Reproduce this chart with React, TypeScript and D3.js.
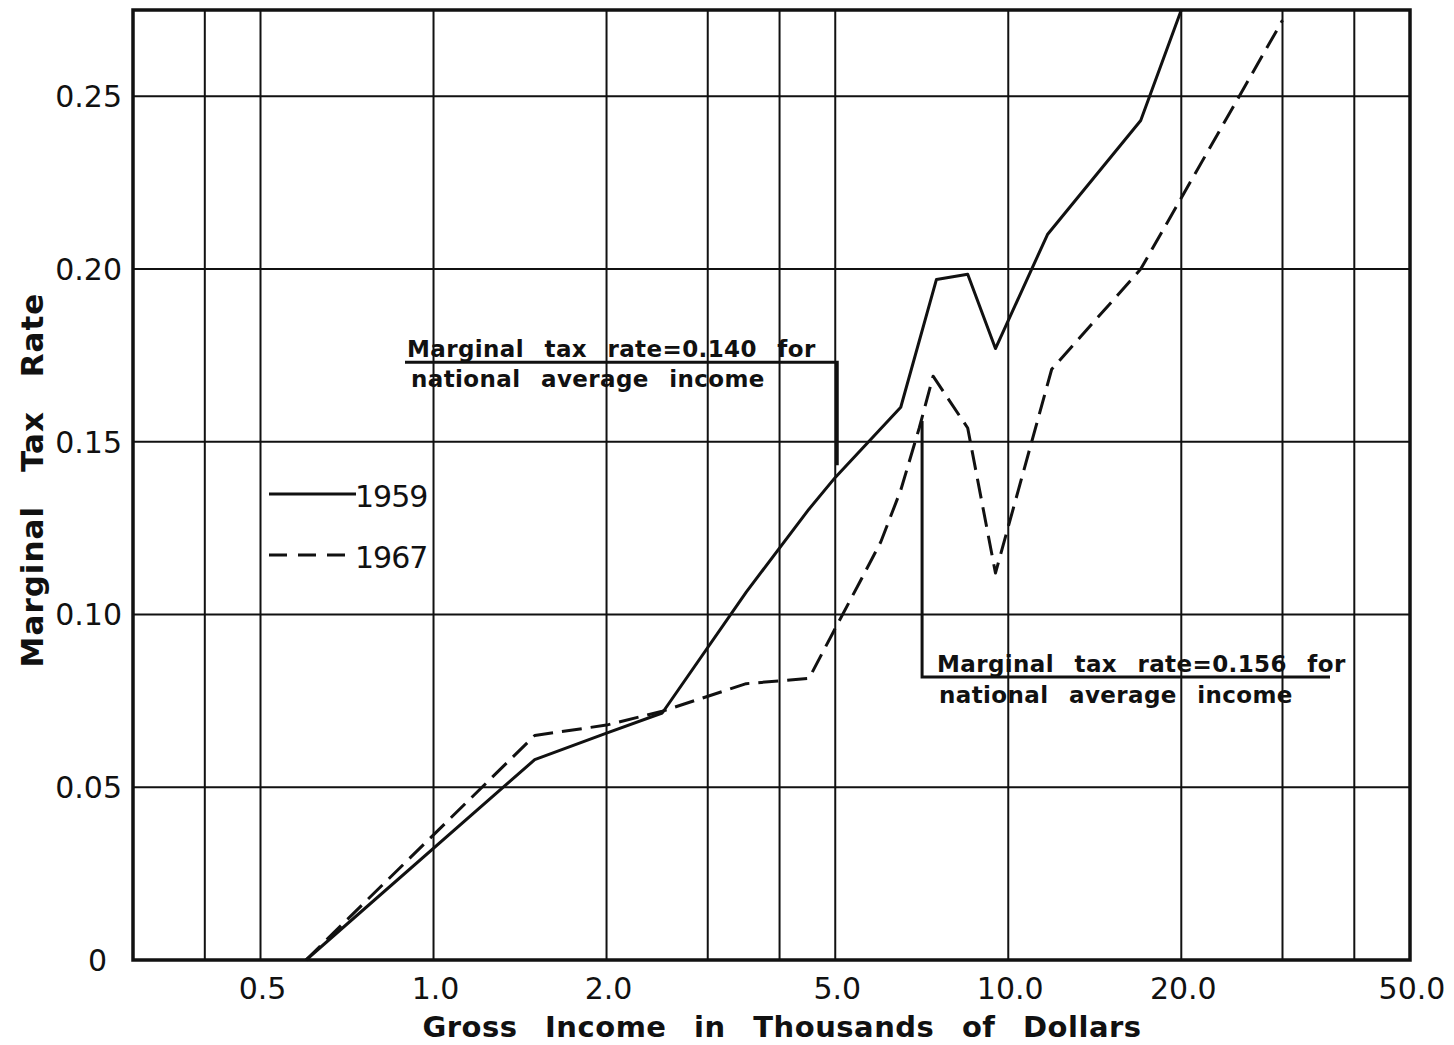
import * as d3 from 'd3';
import { useEffect, useRef } from 'react';

// 1959 marginal rates (solid)
const incomes1959 = [0.6, 1.5, 2.0, 2.5, 3.5, 4.5, 5.0, 6.5, 7.5, 8.5, 9.5, 11.7, 17, 20];
const rates1959 = [0, 0.058, 0.0657, 0.0715, 0.1065, 0.1305, 0.1397, 0.16, 0.197, 0.1985, 0.177, 0.21, 0.243, 0.275];

// 1967 marginal rates (dashed)
const incomes1967 = [0.6, 1.5, 2.0, 2.5, 3.5, 4.5, 5.0, 5.5, 6.0, 6.5, 7.0, 7.4, 8.5, 9.5, 11.9, 17, 30];
const rates1967 = [0, 0.065, 0.068, 0.072, 0.08, 0.0815, 0.096, 0.109, 0.121, 0.136, 0.154, 0.169, 0.154, 0.112, 0.171, 0.2, 0.272];

const incomeTicks = [0.5, 1, 2, 5, 10, 20, 50];
const incomeTickLabels = ['0.5', '1.0', '2.0', '5.0', '10.0', '20.0', '50.0'];
const incomeGrid = [0.4, 0.5, 1, 2, 3, 4, 5, 10, 20, 30, 40];

const rateTicks = [0, 0.05, 0.1, 0.15, 0.2, 0.25];
const rateTickLabels = ['0', '0.05', '0.10', '0.15', '0.20', '0.25'];

const seriesNames = ['1959', '1967'];

// national average income notes: [income, rate]
const note1959 = [5.0, 0.14];
const note1967 = [7.08, 0.156];

const FONT = '"DejaVu Sans", sans-serif';

const App = () => {
  const svgRef = useRef<SVGSVGElement>(null);

  useEffect(() => {
    const width = 1454;
    const height = 1045;
    const svg = d3.select(svgRef.current).attr('width', width).attr('height', height);
    svg.selectAll('*').remove();

    const x = d3.scaleLog().domain([0.3, 50]).range([133, 1410]);
    const y = d3.scaleLinear().domain([0, 0.275]).range([960, 10]);

    svg.append('rect').attr('width', width).attr('height', height).attr('fill', '#fff');

    // grid
    svg.selectAll('.vgrid')
      .data(incomeGrid)
      .enter()
      .append('line')
      .attr('x1', (d) => x(d)).attr('x2', (d) => x(d))
      .attr('y1', y(0)).attr('y2', y(0.275))
      .attr('stroke', '#111').attr('stroke-width', 2);

    svg.selectAll('.hgrid')
      .data(rateTicks.slice(1))
      .enter()
      .append('line')
      .attr('x1', x(0.3)).attr('x2', x(50))
      .attr('y1', (d) => y(d)).attr('y2', (d) => y(d))
      .attr('stroke', '#111').attr('stroke-width', 2);

    // frame
    svg.append('rect')
      .attr('x', x(0.3)).attr('y', y(0.275))
      .attr('width', x(50) - x(0.3)).attr('height', y(0) - y(0.275))
      .attr('fill', 'none').attr('stroke', '#111').attr('stroke-width', 3.5);

    // tick labels
    svg.selectAll('.xlab')
      .data(incomeTicks)
      .enter()
      .append('text')
      .attr('x', (d) => x(d) + 2)
      .attr('y', 999)
      .attr('text-anchor', 'middle')
      .attr('font-family', FONT).attr('font-size', 30).attr('fill', '#111')
      .text((d, i) => incomeTickLabels[i]);

    svg.selectAll('.ylab')
      .data(rateTicks)
      .enter()
      .append('text')
      .attr('x', (d) => (d === 0 ? 107 : 122))
      .attr('y', (d) => y(d))
      .attr('dy', '0.36em')
      .attr('text-anchor', 'end')
      .attr('font-family', FONT).attr('font-size', 30).attr('fill', '#111')
      .text((d, i) => rateTickLabels[i]);

    // axis titles
    svg.append('text')
      .attr('x', 782).attr('y', 1037)
      .attr('text-anchor', 'middle')
      .attr('font-family', FONT).attr('font-size', 29).attr('font-weight', 'bold')
      .attr('word-spacing', 17).attr('letter-spacing', 0.5).attr('fill', '#111')
      .text('Gross Income in Thousands of Dollars');

    svg.append('text')
      .attr('transform', 'translate(43,480) rotate(-90)')
      .attr('text-anchor', 'middle')
      .attr('font-family', FONT).attr('font-size', 31).attr('font-weight', 'bold')
      .attr('word-spacing', 22).attr('letter-spacing', 1).attr('fill', '#111')
      .text('Marginal Tax Rate');

    // series
    const s1959 = incomes1959.map((v, i) => [x(v), y(rates1959[i])] as [number, number]);
    const s1967 = incomes1967.map((v, i) => [x(v), y(rates1967[i])] as [number, number]);
    const path = d3.line();

    svg.append('path')
      .attr('d', path(s1959))
      .attr('fill', 'none').attr('stroke', '#111').attr('stroke-width', 3)
      .attr('stroke-linejoin', 'round');

    svg.append('path')
      .attr('d', path(s1967))
      .attr('fill', 'none').attr('stroke', '#111').attr('stroke-width', 3)
      .attr('stroke-dasharray', '20,9')
      .attr('stroke-linejoin', 'round');

    // legend
    const legend = svg.append('g');
    seriesNames.forEach((name, i) => {
      const ly = 494 + i * 61;
      legend.append('line')
        .attr('x1', 269).attr('x2', 356)
        .attr('y1', ly).attr('y2', ly)
        .attr('stroke', '#111').attr('stroke-width', 3)
        .attr('stroke-dasharray', i === 1 ? '18,11' : null);
      legend.append('text')
        .attr('x', 355).attr('y', ly + 13)
        .attr('font-family', FONT).attr('font-size', 30).attr('fill', '#111')
        .attr('letter-spacing', -1)
        .text(name);
    });

    // annotation for 1959 average income
    const a1x = x(note1959[0]) + 2;
    const a1Top = y(0.173);
    svg.append('path')
      .attr('d', `M${a1x},${y(note1959[1]) - 11}V${a1Top}H405`)
      .attr('fill', 'none').attr('stroke', '#111').attr('stroke-width', 3);
    const t1 = svg.append('text')
      .attr('font-family', FONT).attr('font-size', 23).attr('font-weight', 'bold')
      .attr('word-spacing', 12).attr('letter-spacing', 0.4).attr('fill', '#111');
    t1.append('tspan').attr('x', 407).attr('y', a1Top - 5).text('Marginal tax rate=0.140 for');
    t1.append('tspan').attr('x', 411).attr('y', a1Top + 25).text('national average income');

    // annotation for 1967 average income
    const a2x = x(note1967[0]);
    const a2Bottom = 677;
    svg.append('path')
      .attr('d', `M${a2x},${y(note1967[1])}V${a2Bottom}H1330`)
      .attr('fill', 'none').attr('stroke', '#111').attr('stroke-width', 3);
    const t2 = svg.append('text')
      .attr('font-family', FONT).attr('font-size', 23).attr('font-weight', 'bold')
      .attr('word-spacing', 12).attr('letter-spacing', 0.4).attr('fill', '#111');
    t2.append('tspan').attr('x', 937).attr('y', a2Bottom - 5).text('Marginal tax rate=0.156 for');
    t2.append('tspan').attr('x', 939).attr('y', a2Bottom + 26).text('national average income');

    return () => {
      svg.selectAll('*').remove();
    };
  }, []);

  return <svg ref={svgRef} style={{ position: 'absolute', left: 0, top: 0 }} />;
};

export default App;
